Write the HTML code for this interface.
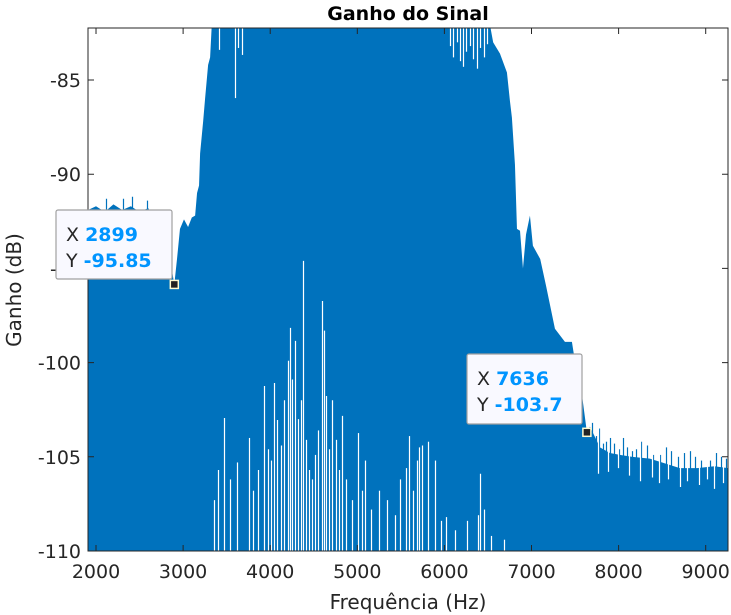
<!DOCTYPE html>
<html><head><meta charset="utf-8">
<style>
html,body{margin:0;padding:0;background:#fff;}
svg{display:block;font-family:"DejaVu Sans","Liberation Sans",sans-serif;}
</style></head>
<body>
<svg id="chart" width="731" height="615" viewBox="0 0 731 615">
<defs><clipPath id="plotclip"><rect x="88" y="28" width="640" height="523"/></clipPath></defs>
<rect x="0" y="0" width="731" height="615" fill="#fff"/>
<g id="plot" clip-path="url(#plotclip)"></g>
<g id="axes"></g>
<text x="408" y="20" text-anchor="middle" font-size="19" font-weight="bold" fill="#000">Ganho do Sinal</text>
<text x="408" y="609" text-anchor="middle" font-size="20" fill="#262626">Frequência (Hz)</text>
<text transform="translate(21,290) rotate(-90)" text-anchor="middle" font-size="20" fill="#262626">Ganho (dB)</text>
<g id="tips"></g>
</svg>
<script>
// ---- data ----
const envFreq = [1908,2000,2100,2200,2300,2400,2500,2600,2650,2700,2750,2800,2850,2899,2930,2964,3010,3057,3100,3138,3160,3183,3195,3230,3252,3287,3310,3330,6520,6560,6638,6718,6752,6775,6810,6833,6868,6902,6937,6982,7016,7100,7166,7269,7384,7464,7498,7579,7636,7671,7786,7900,8015,8150,8358,8500,8703,8900,9100,9256];
const envGain = [-91.9,-91.7,-92.0,-91.6,-91.9,-91.7,-92.0,-91.8,-92.3,-92.9,-93.6,-94.0,-94.5,-95.85,-94.5,-92.9,-92.4,-92.8,-92.3,-92.2,-91.0,-90.6,-88.9,-87.2,-86.0,-84.2,-83.8,-82.0,-82.0,-83.0,-83.6,-84.6,-86.1,-87.0,-89.5,-92.9,-93.0,-95.0,-93.2,-92.2,-93.8,-94.5,-95.9,-98.2,-98.9,-98.9,-99.9,-101.7,-103.7,-103.4,-104.5,-104.8,-104.9,-105.0,-105.1,-105.3,-105.6,-105.6,-105.5,-105.6];
const peakFreq = [2115,2310,2413,2585,2826,3150,7700,7740,7780,7820,7850,7900,7950,8000,8050,8100,8150,8200,8260,8330,8400,8480,8540,8600,8680,8750,8820,8880,8950,9050,9120,9180,9230];
const peakGain = [-91.3,-91.3,-91.2,-91.4,-92.0,-91.9,-103.2,-103.9,-103.5,-104.3,-104.2,-104.0,-104.3,-104.6,-104.0,-104.5,-104.7,-104.6,-104.2,-104.4,-104.9,-104.9,-104.5,-104.7,-105.0,-104.8,-104.7,-105.0,-105.2,-105.2,-104.8,-105.0,-105.1];
const dipFreq = [3354,3400,3469,3538,3618,3756,3802,3860,3929,3974,4009,4043,4078,4124,4158,4204,4227,4250,4284,4319,4353,4376,4411,4446,4480,4514,4549,4595,4618,4641,4675,4710,4755,4790,4824,4870,4939,5008,5054,5088,5157,5249,5341,5432,5490,5559,5593,5639,5685,5708,5742,5811,5892,5960,6018,6121,6259,6385,6408,6454,6534,6684];
const dipGain = [-107.3,-105.7,-102.94,-106.2,-105.3,-104.0,-106.8,-105.7,-101.24,-104.6,-105.2,-101.08,-103.05,-104.4,-102.0,-99.9,-98.16,-100.9,-98.85,-103.0,-102.0,-94.6,-104.1,-105.7,-106.2,-104.9,-103.6,-96.73,-98.3,-101.77,-104.6,-102.0,-104.1,-105.7,-102.83,-106.2,-107.3,-103.74,-106.8,-105.2,-107.8,-106.8,-107.3,-108.1,-106.2,-105.6,-103.9,-106.8,-105.2,-104.5,-104.4,-104.2,-105.2,-108.4,-108.2,-108.9,-108.4,-108.1,-105.9,-107.8,-109.2,-109.4];
const gapFreq = [3410,3596,3630,3676,6060,6100,6140,6180,6210,6250,6290,6330,6370,6410,6450,6490,7760,7880,7990,8120,8240,8380,8460,8570,8700,8790,8920,9010,9100,9200];
const gapGain = [-83.4,-85.96,-83.3,-83.67,-83.2,-83.8,-83.0,-84.0,-84.3,-83.5,-83.2,-83.9,-84.4,-83.3,-83.8,-83.1,-105.9,-105.8,-105.6,-106.0,-106.3,-106.1,-106.4,-106.2,-106.6,-106.3,-106.5,-106.2,-106.7,-106.4];
const xTicks = [2000,3000,4000,5000,6000,7000,8000,9000];
const yTicks = [-110,-105,-100,-95,-90,-85];
const tipFreq = [2899,7636];
const tipGain = [-95.85,-103.7];
const tipXLabel = ["2899","7636"];
const tipYLabel = ["-95.85","-103.7"];

// ---- scales ----
const X0=88,X1=728,Y0=551,Y1=28;
const F0=1908,F1=9256,G0=-110,G1=-82.24;
function xs(f){return X0+(f-F0)/(F1-F0)*(X1-X0);}
function ys(g){return Y0-(g-G0)/(G1-G0)*(Y0-Y1);}
const NS="http://www.w3.org/2000/svg";
function mk(t,a){const e=document.createElementNS(NS,t);for(const k in a)e.setAttribute(k,a[k]);return e;}
const plot=document.getElementById('plot');
const axes=document.getElementById('axes');
const BLUE="#0072BD";

let d="M"+xs(envFreq[0])+","+Y0;
for(let i=0;i<envFreq.length;i++) d+=" L"+xs(envFreq[i]).toFixed(2)+","+ys(envGain[i]).toFixed(2);
d+=" L"+xs(envFreq[envFreq.length-1])+","+Y0+" Z";
const env=mk('path',{d:d,fill:BLUE});


plot.appendChild(env);

for(let i=0;i<peakFreq.length;i++){
  const x=Math.round(xs(peakFreq[i]))+0.5;
  const l=mk('line',{x1:x,x2:x,y1:Y0,y2:ys(peakGain[i]),stroke:BLUE,'stroke-width':1.2});
  
  
  plot.appendChild(l);
}
for(let i=0;i<dipFreq.length;i++){
  const x=Math.round(xs(dipFreq[i]))+0.5;
  const l=mk('line',{x1:x,x2:x,y1:Y0,y2:ys(dipGain[i]),stroke:"#fff",'stroke-width':1.2});
  
  
  plot.appendChild(l);
}
for(let i=0;i<gapFreq.length;i++){
  const x=Math.round(xs(gapFreq[i]))+0.5;
  const l=mk('line',{x1:x,x2:x,y1:Y1,y2:ys(gapGain[i]),stroke:"#fff",'stroke-width':1.2});
  
  
  plot.appendChild(l);
}

const box=mk('rect',{x:X0,y:Y1,width:X1-X0,height:Y0-Y1,fill:"none",stroke:"#262626",'stroke-width':1});


axes.appendChild(box);
for(const t of xTicks){
  const x=xs(t);
  const a=mk('path',{d:`M${x},${Y0}v-6M${x},${Y1}v6`,stroke:"#262626",'stroke-width':1});
  
  
  axes.appendChild(a);
  const tx=mk('text',{x:x,y:578,'text-anchor':'middle','font-size':19,fill:'#262626'});
  tx.textContent=String(t);
  
  
  axes.appendChild(tx);
}
for(const t of yTicks){
  const y=ys(t);
  const a=mk('path',{d:`M${X0},${y}h6M${X1},${y}h-6`,stroke:"#262626",'stroke-width':1});
  
  
  axes.appendChild(a);
  const tx=mk('text',{x:81,y:y+7,'text-anchor':'end','font-size':19,fill:'#262626'});
  tx.textContent=String(t);
  
  
  axes.appendChild(tx);
}

const tips=document.getElementById('tips');
const boxes=[{x:56,y:210,w:116,h:69},{x:467,y:354,w:115,h:70}];
for(let i=0;i<tipFreq.length;i++){
  const b=boxes[i];
  const r=mk('rect',{x:b.x,y:b.y,width:b.w,height:b.h,rx:2,fill:"#f9f9ff",stroke:"#a0a0a0",'stroke-width':1.2});
  
  
  tips.appendChild(r);
  const t1=mk('text',{x:b.x+10,y:b.y+31,'font-size':19,fill:'#262626'});
  t1.innerHTML='X <tspan font-weight="bold" fill="#0095ff">'+tipXLabel[i]+'</tspan>';
  
  
  tips.appendChild(t1);
  const t2=mk('text',{x:b.x+10,y:b.y+57,'font-size':19,fill:'#262626'});
  t2.innerHTML='Y <tspan font-weight="bold" fill="#0095ff">'+tipYLabel[i]+'</tspan>';
  
  
  tips.appendChild(t2);
  const m=mk('rect',{x:xs(tipFreq[i])-4,y:ys(tipGain[i])-4,width:8,height:8,fill:"#222",stroke:"#fffbd0",'stroke-width':1.5});
  
  
  tips.appendChild(m);
}
</script>
</body></html>
